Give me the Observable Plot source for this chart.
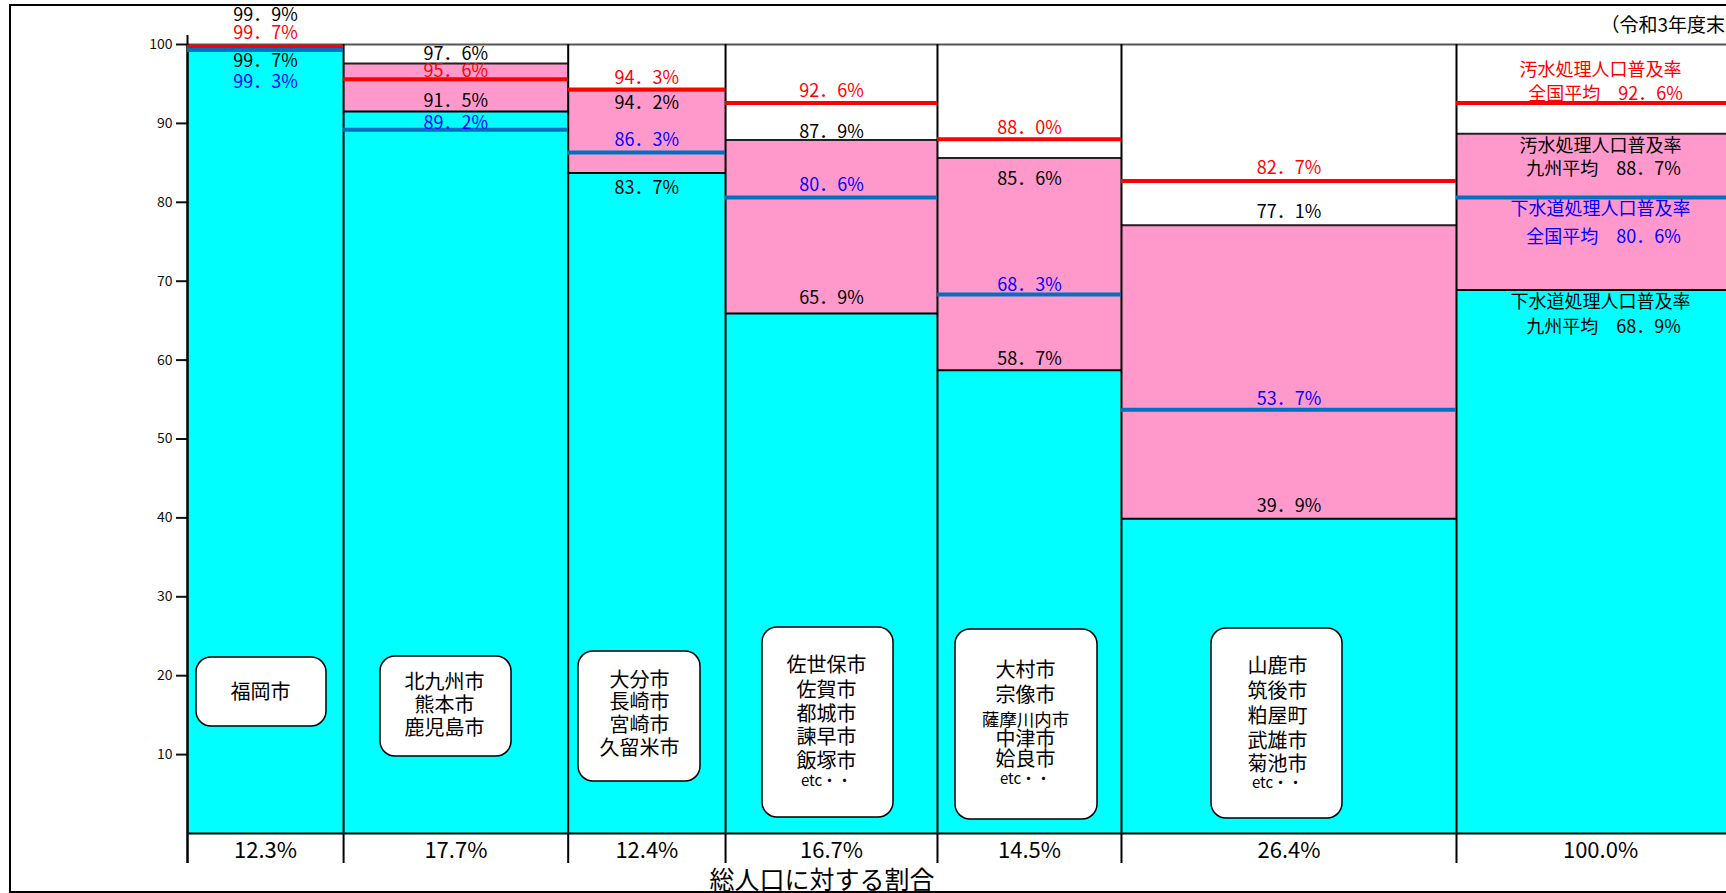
<!DOCTYPE html>
<html><head><meta charset="utf-8">
<script src="https://cdn.jsdelivr.net/npm/d3@7"></script>
<script src="https://cdn.jsdelivr.net/npm/@observablehq/plot@0.6"></script>
<style>
html,body{margin:0;padding:0;background:#fff;overflow:hidden;}
#chart svg{display:block;}
#chart svg [aria-label="y-axis tick"] path, #chart svg [aria-label="y-axis tick"] line, #chart svg g[aria-label="y-axis"] line {stroke-width:2;}
</style></head><body><div id="chart"></div>
<script>
// ---------- data ----------
const cityGroups = [
  ["福岡市"],
  ["北九州市", "熊本市", "鹿児島市"],
  ["大分市", "長崎市", "宮崎市", "久留米市"],
  ["佐世保市", "佐賀市", "都城市", "諫早市", "飯塚市", "etc・・"],
  ["大村市", "宗像市", "薩摩川内市", "中津市", "姶良市", "etc・・"],
  ["山鹿市", "筑後市", "粕屋町", "武雄市", "菊池市", "etc・・"]
];
const popShare = [12.3, 17.7, 12.4, 16.7, 14.5, 26.4];          // 総人口に対する割合 (%)
const sewerKyushu = [99.7, 91.5, 83.7, 65.9, 58.7, 39.9];        // 下水道処理人口普及率 (九州)
const wasteKyushu = [99.9, 97.6, 94.2, 87.9, 85.6, 77.1];        // 汚水処理人口普及率 (九州)
const wasteNational = [99.7, 95.6, 94.3, 92.6, 88.0, 82.7];      // 汚水処理人口普及率 (全国)
const sewerNational = [99.3, 89.2, 86.3, 80.6, 68.3, 53.7];      // 下水道処理人口普及率 (全国)
const totalShare = 100.0;
const avgWasteNational = 92.6;
const avgWasteKyushu = 88.7;
const avgSewerNational = 80.6;
const avgSewerKyushu = 68.9;
const yTicks = [10, 20, 30, 40, 50, 60, 70, 80, 90, 100];

// ---------- layout ----------
const FONT = "'Noto Sans CJK JP', 'Noto Sans', sans-serif";
const X0 = 187, KX = 12.69, Y0 = 833, KY = 7.89;
const SUM_W = 22.7;
const xMax = 100 + SUM_W;
const ux = p => (p - X0) / KX;
const uy = p => (Y0 - p) / KY;

const starts = [];
popShare.reduce((acc, s) => { starts.push(acc); return acc + s; }, 0);
const cols = popShare.map((s, i) => ({
  x1: starts[i], x2: starts[i] + s, cx: starts[i] + s / 2,
  sewerK: sewerKyushu[i], wasteK: wasteKyushu[i], wasteN: wasteNational[i], sewerN: sewerNational[i],
  share: s
}));
cols.push({x1: 100, x2: xMax, cx: 100 + SUM_W / 2, sewerK: avgSewerKyushu, wasteK: avgWasteKyushu,
  wasteN: avgWasteNational, sewerN: avgSewerNational, share: totalShare});
const boundaries = cols.map(c => c.x1);

// label pixel offsets
const dyWasteK = [-30, -9, 13, -8, 21.5, -12.5];
const dyWasteN = [-13.5, -8, -11.5, -11.5, -11, -12.5];
const dySewerK = [14.5, -10, 15, -15, -11.5, -12.5];
const dySewerN = [32, -6.5, -12, -12, -9.5, -11];

const boxLayout = [
  {l: 196, r: 326, t: 657, b: 726, cx: 260, ys: [692]},
  {l: 380, r: 511, t: 656, b: 756, cx: 444, ys: [682, 705, 728]},
  {l: 578, r: 700, t: 651, b: 781, cx: 639, ys: [680, 702.5, 725.5, 748]},
  {l: 762, r: 893, t: 627, b: 817, cx: 826, ys: [665, 690, 714.5, 737, 761.5, 781]},
  {l: 955, r: 1097, t: 629, b: 819, cx: 1025, ys: [670, 695, 719.5, 739.5, 759.5, 779]},
  {l: 1211, r: 1342, t: 628, b: 818, cx: 1277, ys: [666, 691, 716, 741, 764.5, 782.5]}
];

const fmt = v => v.toFixed(1).replace(".", "．") + "%";

const marks = [];
// outer frame
marks.push(Plot.rect([0], {x1: ux(10), x2: ux(1800), y1: uy(892), y2: uy(5), fill: "none", stroke: "#000", strokeWidth: 2}));
// bars
marks.push(Plot.rect(cols, {x1: "x1", x2: "x2", y1: 0, y2: "sewerK", fill: "#00FFFF"}));
marks.push(Plot.rect(cols, {x1: "x1", x2: "x2", y1: "sewerK", y2: "wasteK", fill: "#FF99CC"}));
marks.push(Plot.ruleY(cols, {x1: "x1", x2: "x2", y: "sewerK", stroke: "#000", strokeWidth: 2}));
marks.push(Plot.ruleY(cols, {x1: "x1", x2: "x2", y: "wasteK", stroke: "#222", strokeWidth: 2}));
// top and base lines
marks.push(Plot.ruleY([100], {x1: 0, x2: xMax, stroke: "#555", strokeWidth: 2}));
marks.push(Plot.ruleY([0], {x1: 0, x2: xMax, stroke: "#000", strokeWidth: 2}));
// column boundaries and axis line
marks.push(Plot.ruleX(boundaries, {x: d => d, y1: uy(863), y2: 100, stroke: "#000", strokeWidth: 2}));
marks.push(Plot.ruleX([0], {x: d => d, y1: uy(863), y2: uy(35), stroke: "#000", strokeWidth: 2}));
// national average lines
marks.push(Plot.ruleY(cols, {x1: "x1", x2: "x2", y: "wasteN", stroke: "#FF0000", strokeWidth: 4}));
marks.push(Plot.ruleY(cols, {x1: "x1", x2: "x2", y: "sewerN", stroke: "#0070C0", strokeWidth: 4}));

// value labels for groups
const labelMark = (i, key, dy, fill) => Plot.text([cols[i]], {
  x: "cx", y: key, text: d => fmt(d[key]), dy, fill, fontSize: 18, fontFamily: FONT
});
for (let i = 0; i < 6; i++) {
  marks.push(labelMark(i, "wasteK", dyWasteK[i], "#000"));
  marks.push(labelMark(i, "wasteN", dyWasteN[i], "#FF0000"));
  marks.push(labelMark(i, "sewerK", dySewerK[i], "#000"));
  marks.push(labelMark(i, "sewerN", dySewerN[i], "#0000FF"));
}
// summary column labels
const S = cols[6];
const sumLabel = (key, text, dy, fill, dx = 0) => Plot.text([S], {
  x: "cx", y: key, text: () => text, dy, dx, fill, fontSize: 18, fontFamily: FONT
});
marks.push(sumLabel("wasteN", "汚水処理人口普及率", -32.5, "#FF0000"));
marks.push(sumLabel("wasteN", "全国平均　" + fmt(avgWasteNational), -9, "#FF0000", 5));
marks.push(sumLabel("wasteK", "汚水処理人口普及率", 12.5, "#000"));
marks.push(sumLabel("wasteK", "九州平均　" + fmt(avgWasteKyushu), 36, "#000", 3));
marks.push(sumLabel("sewerN", "下水道処理人口普及率", 12, "#0000FF"));
marks.push(sumLabel("sewerN", "全国平均　" + fmt(avgSewerNational), 39.5, "#0000FF", 3));
marks.push(sumLabel("sewerK", "下水道処理人口普及率", 12, "#000"));
marks.push(sumLabel("sewerK", "九州平均　" + fmt(avgSewerKyushu), 37.5, "#000", 3));

// city boxes
marks.push(Plot.rect(boxLayout, {
  x1: d => ux(d.l), x2: d => ux(d.r), y1: d => uy(d.b), y2: d => uy(d.t),
  fill: "white", stroke: "#000", strokeWidth: 1.5, rx: 15
}));
const boxLines = [];
cityGroups.forEach((names, i) => names.forEach((name, j) => {
  const b = boxLayout[i];
  boxLines.push({x: ux(b.cx), y: uy(b.ys[j]), name,
    size: name.startsWith("etc") ? 15 : (name.length >= 5 ? 17.5 : 20)});
}));
[20, 17.5, 15].forEach(sz => marks.push(Plot.text(boxLines.filter(d => d.size === sz), {
  x: "x", y: "y", text: "name", fontSize: sz, fill: "#000", fontFamily: FONT
})));

// bottom share labels
marks.push(Plot.text(cols, {x: "cx", y: uy(850), text: d => d.share.toFixed(1) + "%", fontSize: 22, fill: "#000", fontFamily: FONT}));
// axis title
marks.push(Plot.text([0], {x: 50, y: uy(880), text: () => "総人口に対する割合", fontSize: 25, fill: "#000", fontFamily: FONT}));
// date note
marks.push(Plot.text([0], {x: ux(1600), y: uy(25), text: () => "（令和3年度末）", textAnchor: "start", fontSize: 19, fill: "#000", fontFamily: FONT}));

const chart = Plot.plot({
  width: 1726,
  height: 893,
  marginLeft: X0,
  marginRight: 1726 - (X0 + xMax * KX),
  marginTop: Y0 - 100 * KY,
  marginBottom: 893 - Y0,
  x: {domain: [0, xMax], range: [X0, X0 + xMax * KX], axis: null},
  y: {domain: [0, 100], range: [Y0, Y0 - 100 * KY], ticks: yTicks, tickSize: 11, tickPadding: 4, label: null, tickFormat: d => String(d)},
  style: {fontFamily: FONT, fontSize: "14px", color: "#111", background: "white", overflow: "hidden"},
  marks
});
document.getElementById("chart").appendChild(chart);
</script></body></html>
